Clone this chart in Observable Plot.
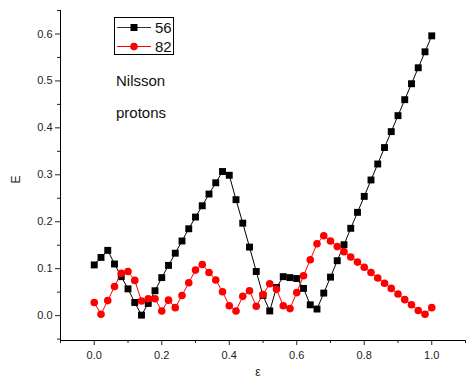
<!DOCTYPE html>
<html><head><meta charset="utf-8">
<script src="https://cdn.jsdelivr.net/npm/d3@7"></script>
<script src="https://cdn.jsdelivr.net/npm/@observablehq/plot@0.6"></script>
<style>
body{margin:0;background:#fff;}
#wrap{position:relative;width:466px;height:387px;font-family:"Liberation Sans",Arial,sans-serif;}
#legend{position:absolute;left:114px;top:17px;width:58px;height:36px;border:1px solid #000;background:#fff;}
.note{position:absolute;left:116px;font-size:15px;color:#111;line-height:1;}
</style></head><body><div id="wrap"></div>
<script>
const eps = [0,0.02,0.04,0.06,0.08,0.10,0.12,0.14,0.16,0.18,0.20,0.22,0.24,0.26,0.28,0.30,0.32,0.34,0.36,0.38,
  0.40,0.42,0.44,0.46,0.48,0.50,0.52,0.54,0.56,0.58,0.60,0.62,0.64,0.66,0.68,0.70,0.72,0.74,0.76,0.78,
  0.80,0.82,0.84,0.86,0.88,0.90,0.92,0.94,0.96,0.98,1.00];
const E56 = [0.108,0.124,0.139,0.110,0.083,0.057,0.028,0.001,0.026,0.053,
  0.081,0.107,0.133,0.159,0.185,0.210,0.234,0.259,0.283,0.307,
  0.299,0.247,0.197,0.146,0.094,0.043,0.010,0.060,0.083,0.081,
  0.079,0.058,0.023,0.014,0.048,0.082,0.117,0.151,0.186,0.220,
  0.254,0.289,0.323,0.358,0.392,0.426,0.460,0.494,0.528,0.562,0.596];
const E82 = [0.028,0.003,0.032,0.062,0.090,0.094,0.075,0.031,0.036,0.036,
  0.010,0.033,0.017,0.043,0.070,0.097,0.109,0.092,0.076,0.051,
  0.021,0.010,0.041,0.053,0.020,0.045,0.068,0.056,0.021,0.015,
  0.049,0.085,0.119,0.153,0.170,0.159,0.147,0.136,0.125,0.114,
  0.103,0.092,0.080,0.069,0.058,0.046,0.034,0.023,0.011,0.003,0.017];
const seriesNames = ["56","82"];
const xMajor = [0,0.2,0.4,0.6,0.8,1.0];
const xMinor = [-0.1,0.1,0.3,0.5,0.7,0.9,1.1];
const yMajor = [0,0.1,0.2,0.3,0.4,0.5,0.6];
const yMinor = [-0.05,0.05,0.15,0.25,0.35,0.45,0.55,0.65];
const xDomain = [-0.1,1.1];
const yDomain = [-0.053,0.65];

const d56 = eps.map((x,i)=>({x, y:E56[i]}));
const d82 = eps.map((x,i)=>({x, y:E82[i]}));

const fontStack = '"Liberation Sans", Arial, sans-serif';
const plot = Plot.plot({
  width:466, height:387,
  marginLeft:60, marginRight:1, marginTop:10, marginBottom:47,
  style:{fontFamily:fontStack, fontSize:"11px", color:"#222", background:"#fff"},
  x:{domain:xDomain},
  y:{domain:yDomain},
  marks:[
    Plot.axisX({ticks:xMajor, tickSize:5, tickFormat:d3.format(".1f"), tickPadding:6, label:null, fontSize:11}),
    Plot.axisX({ticks:xMinor, tickSize:3, tickFormat:null, label:null, text:null}),
    Plot.axisY({ticks:yMajor, tickSize:5, tickFormat:d3.format(".1f"), tickPadding:3, label:null, fontSize:11}),
    Plot.axisY({ticks:yMinor, tickSize:3, label:null, text:null}),
    Plot.ruleY([yDomain[0]], {stroke:"#000", strokeWidth:1}),
    Plot.ruleX([xDomain[0]], {stroke:"#000", strokeWidth:1}),
    Plot.line(d56, {x:"x", y:"y", stroke:"#000", strokeWidth:1}),
    Plot.dot(d56, {x:"x", y:"y", symbol:"square", r:3.9, fill:"#000", stroke:"none"}),
    Plot.line(d82, {x:"x", y:"y", stroke:"#ff0000", strokeWidth:1}),
    Plot.dot(d82, {x:"x", y:"y", symbol:"circle", r:3.8, fill:"#ff0000", stroke:"none"}),
    Plot.text(["E"], {frameAnchor:"left", dx:-44, dy:8, rotate:-90, fontSize:12, fill:"#222"}),
    Plot.text(["ε"], {frameAnchor:"bottom", dx:-5, dy:35, fontSize:12, fill:"#222"})
  ]
});
const wrap = document.getElementById("wrap");
wrap.appendChild(plot);

// legend
const legend = document.createElement("div");
legend.id = "legend";
legend.innerHTML = `<svg width="58" height="36" style="position:absolute;left:0;top:0">
  <line x1="2" x2="36" y1="9.5" y2="9.5" stroke="#333" stroke-width="1"/>
  <rect x="15.5" y="6" width="7" height="7" fill="#000"/>
  <line x1="2" x2="36" y1="28.5" y2="28.5" stroke="#ff0000" stroke-width="1"/>
  <circle cx="19" cy="28.5" r="3.8" fill="#ff0000"/>
  <text x="40" y="15" font-size="15" font-family='Liberation Sans, Arial, sans-serif' fill="#111">${seriesNames[0]}</text>
  <text x="40" y="34" font-size="15" font-family='Liberation Sans, Arial, sans-serif' fill="#111">${seriesNames[1]}</text>
</svg>`;
wrap.appendChild(legend);
const n1 = document.createElement("div"); n1.className="note"; n1.style.top="73px"; n1.textContent="Nilsson";
const n2 = document.createElement("div"); n2.className="note"; n2.style.top="105px"; n2.textContent="protons";
wrap.appendChild(n1); wrap.appendChild(n2);
</script></body></html>
